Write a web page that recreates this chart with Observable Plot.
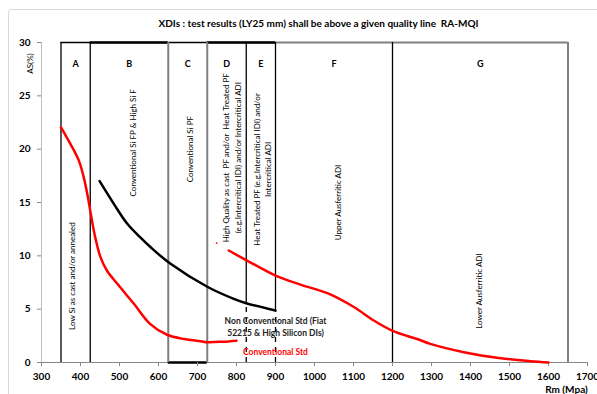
<!DOCTYPE html>
<html><head><meta charset="utf-8">
<script src="https://cdn.jsdelivr.net/npm/d3@7"></script>
<script src="https://cdn.jsdelivr.net/npm/@observablehq/plot@0.6"></script>
<style>
body{margin:0;background:#fff;font-family:Lato,sans-serif}
#frame{position:absolute;left:8px;top:9px;width:640px;height:440px;border:1px solid #d9d9d9;border-radius:3px}
#chart{position:absolute;left:0;top:0}
</style></head>
<body><div id="frame"></div><div id="chart"></div>
<script>
const title = "XDIs : test results (LY25 mm) shall be above a given quality line  RA-MQI";
const xLabel = "Rm (Mpa)";
const yLabel = "AS(%)";
const xTicks = [300,400,500,600,700,800,900,1000,1100,1200,1300,1400,1500,1600,1700];
const yTicks = [0,5,10,15,20,25,30];

const zoneEdges = [350,425,625,725,825,900,1200,1650];
const zoneLetters = ["A","B","C","D","E","F","G"];
const zoneNotes = [
  "Low Si as cast and/or annealed",
  "Conventional Si FP & High Si F",
  "Conventional Si PF",
  "High Quality as cast  PF and/or  Heat Treated PF\n(e.g.Intercritical IDI) and/or Intercritical ADI",
  "Heat Treated PF (e.g.Intercritical IDI) and/or\nIntercritical ADI",
  "Upper Ausferritic ADI",
  "Lower Ausferritic ADI"
];
const noteX = [377,533,680,787,865,1059,1420];
const noteY = [8.1,20.6,20,19.2,18.1,15,6.7];
const letterY = 28;

// Conventional Std (red, left)
const convX = [350,374,396,408,419,427,438,451,468,494,537,579,622,665,708,725,765,800];
const convY = [22.05,20.5,18.9,17.4,15.5,13.8,11.7,9.9,8.6,7.4,5.5,3.6,2.6,2.2,2.0,1.9,1.95,2.05];
// Non Conventional Std (black)
const ncX = [449,485,520,554,580,631,725,793,825,900];
const ncY = [17.0,14.9,13.0,11.7,10.8,9.25,7.1,5.97,5.56,4.87];
// Ausferritic line (red, right)
const ausX = [780,827,900,964,1033,1101,1152,1202,1263,1297,1383,1468,1554,1600];
const ausY = [10.5,9.56,8.15,7.3,6.5,5.2,3.94,2.94,2.2,1.75,0.97,0.44,0.12,0];
const markX = [749], markY = [11.2];

const ncLabel = "Non Conventional Std (Fiat\n52215 & High Silicon DIs)";
const convLabel = "Conventional Std";
const ncLabelAt = {x: 900, y: 3.37};
const convLabelAt = {x: 900, y: 0.94};

const conv = convX.map((x,i)=>({x, y: convY[i]}));
const nc = ncX.map((x,i)=>({x, y: ncY[i]}));
const aus = ausX.map((x,i)=>({x, y: ausY[i]}));
const ncAt = x => (nc.find(d=>d.x===x)||{y:0}).y;
const dashedEdges = [825, 900];
const grayEdges = [625,725,1650];
const zones = zoneLetters.map((l,i)=>({l, x: (zoneEdges[i]+zoneEdges[i+1])/2}));
const notes = zoneNotes.map((t,i)=>({t, x: noteX[i], y: noteY[i]}));

const xMin = xTicks[0], xMax = xTicks[xTicks.length-1];
const yMax = yTicks[yTicks.length-1];

const chart = Plot.plot({
  width: 597, height: 394,
  marginLeft: 41, marginRight: 10, marginTop: 42, marginBottom: 32,
  style: {fontFamily: "Lato, sans-serif", background: "transparent", overflow: "visible"},
  x: {domain: [xMin, xMax]},
  y: {domain: [0, yMax]},
  marks: [
    // zone top border
    Plot.ruleY([yMax], {x1: zoneEdges[5], x2: zoneEdges[7], stroke: "#808080", strokeWidth: 2}),
    Plot.ruleY([yMax], {x1: zoneEdges[0], x2: zoneEdges[5], stroke: "#000", strokeWidth: 1.5}),
    Plot.ruleY([yMax, yMax], {x1: [zoneEdges[1], zoneEdges[3]], x2: [zoneEdges[2], zoneEdges[5]], stroke: "#000", strokeWidth: 2.5}),
    // axes lines
    Plot.ruleY([0], {x1: xMin, x2: xMax, stroke: "#868686", strokeWidth: 1}),
    Plot.ruleX([xMin], {y1: 0, y2: yMax, stroke: "#bfbfbf", strokeWidth: 1}),
    Plot.ruleY([0], {x1: zoneEdges[2], x2: zoneEdges[3], stroke: "#000", strokeWidth: 2.5}),
    // zone vertical edges
    Plot.ruleX(zoneEdges.filter(e=>!dashedEdges.includes(e)), {
      y1: 0, y2: yMax,
      stroke: d => grayEdges.includes(d) ? "#7f7f7f" : "#000",
      strokeWidth: d => grayEdges.includes(d) ? 2 : 1.3
    }),
    Plot.ruleX(dashedEdges, {y1: d => ncAt(d), y2: yMax, stroke: "#000", strokeWidth: 1.3}),
    Plot.ruleX(dashedEdges, {y1: 0, y2: d => ncAt(d), stroke: "#000", strokeWidth: 1.3, strokeDasharray: "5,5"}),
    // axes
    Plot.axisX(xTicks, {tickSize: 4, tickPadding: 6, stroke: "#868686", fill: "#000", fontWeight: "bold", fontSize: 10, label: null, tickFormat: d => String(d)}),
    Plot.axisY(yTicks, {tickSize: 4, tickPadding: 7, stroke: "#868686", fill: "#000", fontWeight: "bold", fontSize: 10, label: null, tickFormat: d => String(d)}),
    // curves
    Plot.line(conv, {x: "x", y: "y", stroke: "#ff0000", strokeWidth: 2.5, curve: "catmull-rom"}),
    Plot.line(nc, {x: "x", y: "y", stroke: "#000", strokeWidth: 2.5, curve: "catmull-rom"}),
    Plot.line(aus, {x: "x", y: "y", stroke: "#ff0000", strokeWidth: 2.5, curve: "catmull-rom"}),
    Plot.dot(markX.map((x,i)=>({x, y: markY[i]})), {x: "x", y: "y", r: 0.9, fill: "#ff0000"}),
    // zone letters and notes
    Plot.text(zones, {x: "x", y: letterY, text: "l", fontWeight: "bold", fontSize: 9, fill: "#000"}),
    Plot.text(notes, {x: "x", y: "y", text: "t", rotate: -90, fontSize: 8, fill: "#000", lineHeight: 1.45}),
    // annotations
    Plot.text([ncLabel], {x: ncLabelAt.x, y: ncLabelAt.y, fontWeight: "bold", fontSize: 8.5, fill: "#222", lineHeight: 1.4}),
    Plot.text([convLabel], {x: convLabelAt.x, y: convLabelAt.y, fontWeight: "bold", fontSize: 8.5, fill: "#ff0000"}),
    // titles
    Plot.text([title], {frameAnchor: "top", dx: 4, dy: -19, lineAnchor: "middle", textAnchor: "middle", fontWeight: "bold", fontSize: 10, fill: "#000"}),
    Plot.text([yLabel], {frameAnchor: "top-left", dx: -11, dy: 21, rotate: -90, lineAnchor: "middle", textAnchor: "middle", fontSize: 8, fill: "#000"}),
    Plot.text([xLabel], {frameAnchor: "bottom-right", dx: -21, dy: 27, lineAnchor: "middle", textAnchor: "middle", fontWeight: "bold", fontSize: 10, fill: "#000"})
  ]
});
document.getElementById("chart").append(chart);
</script>
</body></html>
